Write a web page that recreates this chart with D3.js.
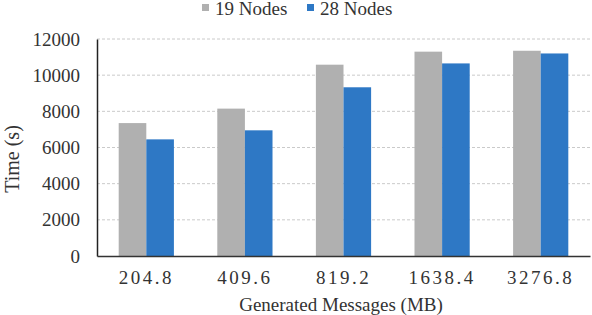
<!DOCTYPE html>
<html><head><meta charset="utf-8">
<script src="https://cdn.jsdelivr.net/npm/d3@7"></script>
<style>body{margin:0;background:#fff}svg{display:block}</style>
</head><body><svg id="c" width="592" height="315"></svg>
<script>
const categories = ["204.8","409.6","819.2","1638.4","3276.8"];
const seriesNames = ["19 Nodes","28 Nodes"];
const nodes19 = [7350, 8150, 10580, 11300, 11350];
const nodes28 = [6450, 6950, 9330, 10650, 11200];
const yTicks = [0,2000,4000,6000,8000,10000,12000];
const colors = ["#b0b0b0","#2e78c5"];

const svg = d3.select("#c");
const font = "'Liberation Serif'";
const m = {l:97, r:2, t:39, b:59};
const W = 592, H = 315;
const x = d3.scaleBand().domain(categories).range([m.l, W-m.r]).paddingInner(0.44).paddingOuter(0.22);
const xs = d3.scaleBand().domain(seriesNames).range([0, x.bandwidth()]);
const y = d3.scaleLinear().domain([0,12000]).range([H-m.b, m.t]);

// grid
svg.append("g").selectAll("line").data(yTicks.filter(d=>d>0)).join("line")
  .attr("x1", m.l).attr("x2", W-m.r).attr("y1", d=>y(d)).attr("y2", d=>y(d))
  .attr("stroke","#cacaca").attr("stroke-width",1).attr("stroke-dasharray","3,2");

// bars
const data = categories.map((c,i)=>({c, v:[nodes19[i], nodes28[i]]}));
const g = svg.append("g").selectAll("g").data(data).join("g").attr("transform", d=>`translate(${x(d.c)},0)`);
g.selectAll("rect").data(d=>d.v.map((v,j)=>({v, s:seriesNames[j], j}))).join("rect")
  .attr("x", d=>xs(d.s)).attr("width", xs.bandwidth())
  .attr("y", d=>y(d.v)).attr("height", d=>y(0)-y(d.v))
  .attr("fill", d=>colors[d.j]);

// y axis
const ya = svg.append("g").attr("transform",`translate(${m.l},0)`)
  .call(d3.axisLeft(y).tickValues(yTicks).tickSize(0).tickPadding(17).tickFormat(d3.format("d")));
ya.attr("font-family",font).attr("font-size",19);
ya.select(".domain").attr("stroke","#222").attr("stroke-width",1.5);
ya.selectAll("text").attr("font-family",font).attr("font-size",19).attr("fill","#333");

// x axis
const xa = svg.append("g").attr("transform",`translate(0,${y(0)})`)
  .call(d3.axisBottom(x).tickSize(0).tickPadding(15));
xa.attr("font-family",font).attr("font-size",19);
xa.select(".domain").attr("stroke","#333").attr("stroke-width",1.5);
xa.selectAll("text").attr("font-family",font).attr("font-size",19).attr("fill","#333").attr("letter-spacing","2.5px");

// titles
svg.append("text").attr("x",341).attr("y",311).attr("text-anchor","middle")
  .attr("font-family",font).attr("font-size",19).attr("fill","#333").text("Generated Messages (MB)");
svg.append("text").attr("transform","translate(19,159) rotate(-90)").attr("text-anchor","middle")
  .attr("font-family",font).attr("font-size",20).attr("fill","#333").text("Time (s)");

// legend
const lx = [202, 307];
const lg = svg.append("g").selectAll("g").data(seriesNames).join("g").attr("transform",(d,i)=>`translate(${lx[i]},0)`);
lg.append("rect").attr("x",0).attr("y",4).attr("width",7).attr("height",7).attr("fill",(d,i)=>colors[i]);
lg.append("text").attr("x",13).attr("y",15).attr("font-family",font).attr("font-size",19).attr("fill","#333").text(d=>d);
</script></body></html>
